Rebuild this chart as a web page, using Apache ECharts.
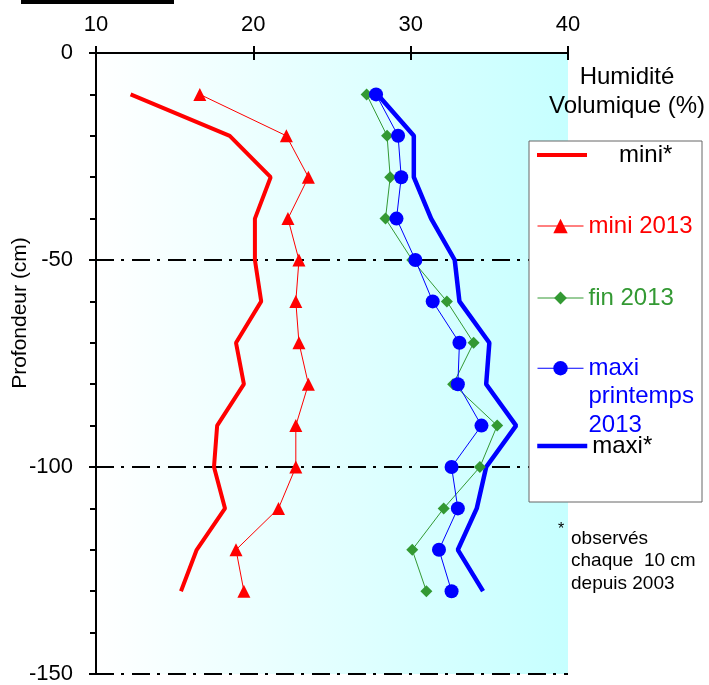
<!DOCTYPE html>
<html>
<head>
<meta charset="utf-8">
<script src="https://cdn.jsdelivr.net/npm/echarts@6/dist/echarts.min.js"></script>
<style>html,body{margin:0;padding:0;background:#fff}#c{width:709px;height:685px}</style>
</head>
<body>
<div id="c"></div>
<script>
// ---- data ----
var depths = [-10, -20, -30, -40, -50, -60, -70, -80, -90, -100, -110, -120, -130];
var miniObs = [12.2, 18.5, 21.1, 20.1, 20.1, 20.5, 18.9, 19.4, 17.7, 17.5, 18.2, 16.4, 15.4];
var mini2013 = [16.6, 22.1, 23.5, 22.2, 22.9, 22.7, 22.9, 23.5, 22.7, 22.7, 21.6, 18.9, 19.4];
var fin2013 = [27.2, 28.5, 28.7, 28.4, 30.1, 32.3, 34.0, 32.7, 35.5, 34.4, 32.1, 30.1, 31.0];
var maxiPrint2013 = [27.8, 29.2, 29.4, 29.1, 30.3, 31.4, 33.1, 33.0, 34.5, 32.6, 33.0, 31.8, 32.6];
var maxiObs = [27.9, 30.2, 30.2, 31.3, 32.8, 33.1, 35.0, 34.8, 36.7, 34.8, 34.2, 33.0, 34.6];
var seriesNames = ['mini*', 'mini 2013', 'fin 2013', 'maxi printemps 2013', 'maxi*'];
var xTicks = [10, 20, 30, 40];
var yTicks = [0, -50, -100, -150];

function pairs(vals) { return vals.map(function (v, i) { return [v, depths[i]]; }); }

var FONT = '"Liberation Sans", Arial, sans-serif';
var chart = echarts.init(document.getElementById('c'), null, { renderer: 'canvas' });

function legendFor(name, left, top, width, height, textStyle, extra) {
  return Object.assign({
    data: [name], left: left, top: top, padding: 0, orient: 'vertical',
    itemWidth: width, itemHeight: height, selectedMode: false,
    lineStyle: { width: 'inherit' }, z: 6,
    textStyle: Object.assign({ fontFamily: FONT, fontSize: 24 }, textStyle)
  }, extra || {});
}

var option = {
  animation: false,
  grid: {
    left: 96, right: 141, top: 53, bottom: 8, show: true, borderWidth: 0,
    backgroundColor: new echarts.graphic.LinearGradient(0, 0, 1, 0, [
      { offset: 0, color: '#ffffff' }, { offset: 1, color: '#c6ffff' }
    ])
  },
  xAxis: [{
    type: 'value', position: 'top', min: xTicks[0], max: xTicks[xTicks.length - 1], interval: 10,
    axisLine: { show: true, lineStyle: { color: '#000', width: 2 } },
    axisTick: { show: true, length: 7, lineStyle: { color: '#000', width: 2 } },
    axisLabel: { fontFamily: FONT, fontSize: 22, color: '#000', margin: 17 },
    splitLine: { show: false }
  }, {
    type: 'value', position: 'top', min: xTicks[0], max: xTicks[xTicks.length - 1], interval: 10,
    axisLine: { show: false },
    axisTick: { show: true, inside: true, length: 7, lineStyle: { color: '#000', width: 2 } },
    axisLabel: { show: false }, splitLine: { show: false }
  }],
  yAxis: [{
    type: 'value', min: yTicks[yTicks.length - 1], max: yTicks[0], interval: 50,
    axisLine: { show: true, onZero: false, lineStyle: { color: '#000', width: 2 } },
    axisTick: { show: true, length: 7, lineStyle: { color: '#000', width: 2 } },
    minorTick: { show: true, splitNumber: 5, length: 6, lineStyle: { color: '#000', width: 2 } },
    axisLabel: { fontFamily: FONT, fontSize: 22, color: '#000', margin: 23 },
    splitLine: { show: true, lineStyle: { color: '#000', width: 2, type: [18, 7, 3, 8] } }
  }, {
    type: 'value', position: 'left', min: yTicks[yTicks.length - 1], max: yTicks[0], interval: 50,
    axisLine: { show: false },
    axisTick: { show: true, inside: true, length: 7, lineStyle: { color: '#000', width: 2 } },
    axisLabel: { show: false }, splitLine: { show: false }
  }],
  legend: [
    legendFor(seriesNames[0], 535, 143, 50, 14, { color: '#000', padding: [0, 0, 0, 27] }, { itemStyle: { opacity: 0 } }),
    legendFor(seriesNames[1], 537, 214, 46, 18, { color: '#ff0000' }),
    legendFor(seriesNames[2], 537, 286, 46, 16, { color: '#339933' }),
    legendFor(seriesNames[3], 537, 297, 46, 18, { color: '#0000ff', lineHeight: 28.5 },
      { formatter: function () { return '\n\nmaxi\nprintemps\n2013'; } }),
    legendFor(seriesNames[4], 535, 434, 50, 14, { color: '#000' }, { itemStyle: { opacity: 0 } })
  ],
  series: [{
    name: seriesNames[0], type: 'line', data: pairs(miniObs), symbol: 'none',
    lineStyle: { color: '#ff0000', width: 4 }, itemStyle: { color: '#ff0000' }, z: 2
  }, {
    name: seriesNames[1], type: 'line', data: pairs(mini2013), symbol: 'triangle', symbolSize: 13,
    lineStyle: { color: '#ff0000', width: 1 }, itemStyle: { color: '#ff0000' }, z: 2
  }, {
    name: seriesNames[2], type: 'line', data: pairs(fin2013), symbol: 'diamond', symbolSize: 12,
    lineStyle: { color: '#339933', width: 1 }, itemStyle: { color: '#339933' }, z: 2
  }, {
    name: seriesNames[3], type: 'line', data: pairs(maxiPrint2013), symbol: 'circle', symbolSize: 14,
    lineStyle: { color: '#0000ff', width: 1 }, itemStyle: { color: '#0000ff' }, z: 2
  }, {
    name: seriesNames[4], type: 'line', data: pairs(maxiObs), symbol: 'none',
    lineStyle: { color: '#0000ff', width: 4.5 }, itemStyle: { color: '#0000ff' }, z: 2
  }],
  graphic: [
    { type: 'rect', z: 5, shape: { x: 529, y: 141, width: 173, height: 361 },
      style: { fill: '#ffffff', stroke: '#666666', lineWidth: 1 } },
    { type: 'rect', z: 5, shape: { x: 21, y: 0, width: 153, height: 4 }, style: { fill: '#000' } },
    { type: 'text', z: 5, x: 20, y: 313, rotation: Math.PI / 2,
      style: { text: 'Profondeur (cm)', font: '21px ' + FONT, fill: '#000', textAlign: 'center', textVerticalAlign: 'middle' } },
    { type: 'text', z: 5, x: 627, y: 91.5,
      style: { text: 'Humidité\nVolumique (%)', font: '24px ' + FONT, lineHeight: 29, fill: '#000', textAlign: 'center', textVerticalAlign: 'middle' } },
    { type: 'text', z: 5, x: 558, y: 530,
      style: { text: '*', font: '16px ' + FONT, fill: '#000', textAlign: 'left', textVerticalAlign: 'middle' } },
    { type: 'text', z: 5, x: 571, y: 561,
      style: { text: 'observés\nchaque  10 cm\ndepuis 2003', font: '19px ' + FONT, lineHeight: 22.5, fill: '#000', textAlign: 'left', textVerticalAlign: 'middle' } }
  ]
};
chart.setOption(option);
</script>
</body>
</html>
